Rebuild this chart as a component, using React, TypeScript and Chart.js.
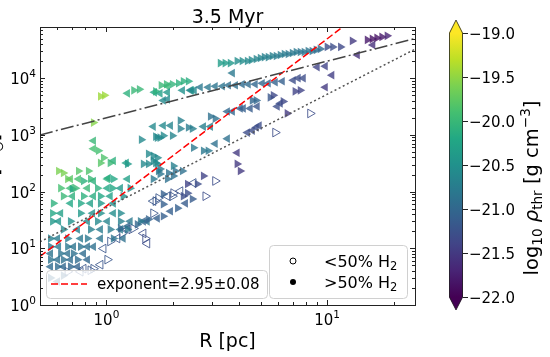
import React, { useEffect, useRef } from "react";
import { Chart, registerables } from "chart.js";
Chart.register(...registerables);

type Pt = [number, number, number]; // [R (pc), M, log10 rho_thr]

const TITLE = "3.5 Myr";
const X_MIN = 0.5, X_MAX = 25;
const Y_MIN = 1, Y_MAX = 8e4;
const X_MAJOR = [1, 10];
const X_MINOR = [0.5, 0.6, 0.7, 0.8, 0.9, 2, 3, 4, 5, 6, 7, 8, 9, 20];
const Y_MAJOR = [1, 10, 100, 1000, 10000];
const Y_MINOR_MULT = [2, 3, 4, 5, 6, 7, 8, 9];
const CBAR_TICKS = [-19.0, -19.5, -20.0, -20.5, -21.0, -21.5, -22.0];
const RHO_MIN = -22, RHO_MAX = -19;
const FIT = { coef: 55.6, exp: 2.95, label: "exponent=2.95±0.08" };
const REF_LINEAR = { coef: 2000, exp: 1 };
const REF_QUAD = { coef: 52, exp: 2 };

const rightFilled: Pt[] = [
  [0.94, 4790, -19.45], [0.98, 4990, -19.45],
  [1.33, 6120, -20.0], [1.41, 6370, -20.0], [1.67, 5870, -20.1], [1.77, 7510, -20.0], [1.87, 7820, -20.0],
  [1.99, 7820, -20.05], [2.12, 8150, -20.1], [2.23, 8840, -20.1], [2.35, 8840, -20.15],
  [3.28, 18500, -20.35], [3.45, 18500, -20.35], [3.64, 18500, -20.4], [3.91, 20100, -20.55], [4.12, 20100, -20.55],
  [4.35, 20100, -20.6], [4.53, 20900, -20.6], [4.77, 21800, -20.65], [4.98, 22700, -20.65], [5.19, 23600, -20.7],
  [5.41, 23600, -20.7], [5.64, 24600, -20.7], [5.88, 24600, -20.75], [6.13, 25700, -20.75], [6.39, 26700, -20.75],
  [6.66, 26700, -20.8], [6.95, 27800, -20.8], [7.24, 29000, -20.8], [7.55, 29000, -20.85], [7.87, 29000, -20.85],
  [8.2, 30200, -20.85], [8.55, 30200, -20.9], [8.92, 31500, -20.9], [9.3, 32800, -20.95],
  [10.0, 35600, -21.3], [10.6, 35600, -21.3], [11.5, 35600, -21.35], [13.0, 45500, -21.5], [15.2, 47400, -21.8],
  [16.0, 49300, -21.85], [16.8, 51400, -21.85], [17.7, 53500, -21.8], [18.7, 55800, -21.7],
  [7.16, 5870, -21.4], [7.55, 6120, -21.4], [5.52, 4590, -21.2], [4.58, 4060, -21.0], [4.77, 4060, -21.0],
  [5.7, 4990, -21.35], [6.32, 3900, -21.35], [2.96, 2110, -20.9], [3.11, 1940, -20.9], [6.59, 2390, -21.5],
  [3.91, 308, -21.5], [4.04, 231, -21.5],
  [1.67, 930, -20.6], [1.81, 970, -20.6], [1.99, 970, -20.65], [2.16, 1290, -20.7], [2.45, 1290, -20.7],
  [2.16, 1790, -20.7], [2.35, 1350, -20.75],
  [2.75, 525, -20.8], [2.89, 525, -20.8], [2.48, 593, -20.8], [2.75, 189, -21.4], [2.58, 136, -21.3],
  [2.23, 83, -21.3], [2.33, 94, -21.3], [2.21, 231, -20.9], [2.05, 231, -20.9], [1.91, 213, -20.9],
  [1.75, 205, -20.85], [1.63, 167, -20.8], [1.81, 90, -21.1], [1.81, 60, -21.1], [1.89, 167, -20.9],
  [2.01, 189, -20.9], [1.63, 349, -20.6], [1.7, 394, -20.6], [1.72, 231, -20.8], [1.75, 251, -20.8], [2.33, 136, -21.4],
  [0.873, 1650, -19.55], [0.92, 525, -19.9], [0.969, 394, -19.85], [0.939, 321, -19.8], [1.04, 321, -20.0],
  [0.607, 231, -19.6], [0.638, 213, -19.6], [0.747, 231, -19.8], [0.829, 231, -19.85], [0.787, 154, -20.1],
  [1.44, 823, -20.6], [1.55, 464, -20.6], [1.63, 428, -20.6], [1.67, 321, -20.6], [0.7, 111, -20.2],
  [1.245, 308, -20.4], [1.7, 894, -20.6], [1.75, 894, -20.6], [1.47, 308, -20.6], [1.55, 308, -20.6],
  [1.7, 308, -20.6], [2.01, 284, -20.7],
  [0.667, 167, -19.7], [0.847, 167, -20.0], [1.075, 167, -20.2],
  [0.62, 115, -19.9], [0.724, 115, -20.0], [0.911, 115, -20.1], [1.065, 115, -20.2], [1.28, 115, -20.5],
  [0.638, 83, -20.0], [0.787, 83, -20.1], [0.939, 83, -20.2], [1.19, 83, -20.5],
  [0.575, 62, -20.1], [0.763, 62, -20.2], [0.939, 62, -20.4],
  [0.57, 41.5, -20.2], [0.763, 41.5, -20.4], [0.939, 41.5, -20.5], [1.157, 41.5, -20.6],
  [0.57, 29.9, -20.4], [0.687, 29.9, -20.5], [0.911, 29.9, -20.6], [1.157, 29.9, -20.7], [1.425, 29.9, -20.8],
  [0.638, 21.5, -20.6], [0.847, 21.5, -20.7], [1.04, 21.5, -20.75], [1.245, 21.5, -20.8],
  [0.558, 14.9, -20.7], [0.667, 14.9, -20.75], [0.82, 14.9, -20.8], [1.075, 14.9, -20.85],
  [0.558, 10.7, -20.8], [0.667, 10.7, -20.8], [0.763, 10.7, -20.85],
  [0.62, 8.07, -20.85], [0.709, 8.07, -20.9],
  [0.558, 6.31, -20.85], [0.638, 6.31, -20.9], [0.739, 6.31, -20.95],
  [0.6, 4.74, -20.95], [0.687, 4.74, -21.0],
  [0.558, 3.0, -21.0], [0.638, 3.3, -21.05],
  [1.157, 22.4, -21.0], [1.38, 26.4, -21.0], [1.55, 32.4, -21.05], [1.81, 36.7, -21.1], [2.1, 51, -21.1], [2.45, 74, -21.15],
];

const leftFilled: Pt[] = [
  [1.245, 5410, -20.1], [1.65, 5640, -20.2], [1.89, 7210, -20.0], [2.43, 6120, -20.3], [1.89, 4240, -20.6],
  [1.75, 5410, -20.3], [1.89, 5640, -20.4], [2.21, 6120, -20.5], [2.4, 6120, -20.6], [2.5, 6120, -20.6], [1.81, 4060, -20.6],
  [2.66, 6920, -20.8], [2.89, 6920, -20.8], [3.11, 7210, -20.85], [3.35, 7210, -20.85], [3.57, 7510, -20.9],
  [3.84, 7510, -20.9], [4.12, 7820, -20.95], [4.39, 7820, -20.95], [4.72, 7820, -21.0], [5.08, 8150, -21.0],
  [5.41, 8150, -21.05], [5.82, 8490, -21.05], [6.26, 8840, -21.1], [3.72, 12300, -20.8],
  [16.1, 38600, -21.6], [13.7, 25700, -21.6], [9.01, 15700, -21.4], [9.8, 16300, -21.4], [10.5, 11300, -21.45],
  [7.02, 9210, -21.3], [7.39, 10000, -21.3], [7.79, 10000, -21.3], [9.8, 6920, -21.5], [6.13, 3590, -21.3],
  [5.94, 3180, -21.3], [4.04, 2930, -21.1], [4.17, 2930, -21.1], [4.48, 2930, -21.15], [4.82, 3180, -21.2],
  [3.53, 2590, -21.0], [3.72, 2590, -21.0], [4.35, 1100, -21.3], [4.58, 1190, -21.3], [4.77, 1350, -21.3],
  [4.92, 1460, -21.3], [3.91, 484, -21.5],
  [1.63, 1400, -20.6], [1.81, 1460, -20.6], [1.95, 1460, -20.65], [2.75, 1400, -20.7], [2.96, 1400, -20.7],
  [3.53, 858, -20.9], [3.11, 699, -20.9],
  [0.873, 790, -20.0], [0.873, 570, -19.9], [1.075, 349, -20.1], [0.873, 154, -20.1], [1.02, 174, -20.2], [1.23, 321, -20.3],
  [0.687, 167, -19.8], [0.747, 167, -19.9], [1.01, 167, -20.1], [1.245, 167, -20.3],
  [0.687, 115, -19.95], [0.82, 115, -20.0], [1.01, 115, -20.2], [1.157, 115, -20.4],
  [0.702, 83, -20.1], [0.873, 83, -20.15], [1.04, 83, -20.3],
  [0.687, 62, -20.2], [0.847, 62, -20.3], [1.075, 62, -20.5],
  [0.62, 41.5, -20.3], [0.865, 41.5, -20.5], [1.075, 41.5, -20.55],
  [0.607, 29.9, -20.45], [0.82, 29.9, -20.6], [1.01, 29.9, -20.65], [1.28, 29.9, -20.8], [1.53, 29.9, -20.85],
  [0.739, 21.5, -20.7], [0.939, 21.5, -20.75], [1.157, 21.5, -20.8],
  [0.6, 14.9, -20.75], [0.763, 14.9, -20.8], [0.939, 14.9, -20.85], [1.19, 14.9, -20.9],
  [0.607, 10.7, -20.8], [0.709, 10.7, -20.85], [0.82, 10.7, -20.9], [0.873, 10.7, -20.9],
  [0.558, 8.07, -20.85], [0.667, 8.07, -20.9], [0.787, 8.07, -20.95],
  [0.6, 6.31, -20.9], [0.687, 6.31, -20.95], [0.82, 6.31, -21.0],
  [0.558, 4.74, -20.95], [0.638, 4.74, -21.0], [0.739, 4.74, -21.05],
  [0.6, 2.6, -21.05],
  [1.245, 24.4, -21.0], [1.47, 29.9, -21.05], [1.7, 33.8, -21.1], [1.95, 45, -21.1], [2.28, 62, -21.15],
];

const rightOpen: Pt[] = [
  [8.38, 2390, -21.3], [5.82, 1100, -21.3], [3.11, 154, -21.3], [2.81, 83, -21.3], [1.99, 83, -21.2],
  [1.67, 68, -21.2], [1.63, 41.5, -21.2], [1.01, 6.31, -21.2], [0.873, 4.37, -21.2], [1.04, 13.2, -21.2],
  [1.18, 18.3, -21.2], [1.325, 22.4, -21.25], [1.5, 14.9, -21.3], [1.72, 77, -21.2], [2.01, 94, -21.25],
  [0.847, 4.1, -21.2], [0.667, 3.86, -21.2],
];

const leftOpen: Pt[] = [
  [2.48, 142, -21.2], [0.939, 5.14, -21.2], [0.787, 4.37, -21.2], [0.969, 9.9, -21.2], [1.12, 14.9, -21.2],
  [1.245, 21.5, -21.25], [1.47, 18.3, -21.3], [1.53, 12.1, -21.3], [1.63, 68, -21.2], [1.89, 83, -21.2],
  [2.16, 102, -21.25], [0.763, 3.86, -21.2],
];

const VIRIDIS = ["#440154", "#482475", "#414487", "#355f8d", "#2a788e", "#21918c", "#22a884", "#44bf70", "#7ad151", "#bddf26", "#fde725"];
const FONT = "'DejaVu Sans', sans-serif";

function hexRgb(h: string) {
  return [parseInt(h.slice(1, 3), 16), parseInt(h.slice(3, 5), 16), parseInt(h.slice(5, 7), 16)];
}
function viridis(v: number, a = 1) {
  let t = (v - RHO_MIN) / (RHO_MAX - RHO_MIN);
  t = Math.max(0, Math.min(1, t));
  const s = t * (VIRIDIS.length - 1);
  const i = Math.min(Math.floor(s), VIRIDIS.length - 2);
  const f = s - i;
  const c0 = hexRgb(VIRIDIS[i]), c1 = hexRgb(VIRIDIS[i + 1]);
  const c = c0.map((c, k) => Math.round(c + (c1[k] - c) * f));
  return `rgba(${c[0]},${c[1]},${c[2]},${a})`;
}

type Seg = { t: string; s: number; dy?: number; it?: boolean };
function setFont(ctx: CanvasRenderingContext2D, seg: Seg) {
  ctx.font = `${seg.it ? "italic " : ""}${seg.s}px ${FONT}`;
}
function richWidth(ctx: CanvasRenderingContext2D, segs: Seg[]) {
  let w = 0;
  for (const sg of segs) { setFont(ctx, sg); w += ctx.measureText(sg.t).width; }
  return w;
}
function drawRich(ctx: CanvasRenderingContext2D, segs: Seg[], x: number, y: number, align: "left" | "center" | "right") {
  const w = richWidth(ctx, segs);
  let cx = align === "left" ? x : align === "center" ? x - w / 2 : x - w;
  ctx.textAlign = "left";
  ctx.textBaseline = "alphabetic";
  for (const sg of segs) {
    setFont(ctx, sg);
    ctx.fillText(sg.t, cx, y + (sg.dy || 0));
    cx += ctx.measureText(sg.t).width;
  }
}
const sup = (n: number) => Math.round(Math.log10(n)).toString();

const decorPlugin = {
  id: "decor",
  afterDatasetsDraw(chart: any) {
    const ctx: CanvasRenderingContext2D = chart.ctx;
    const { left, right, top, bottom } = chart.chartArea;
    const xs = chart.scales.x, ys = chart.scales.y;
    ctx.save();
    // legends
    const rr = (x0: number, y0: number, x1: number, y1: number) => {
      ctx.beginPath();
      ctx.roundRect(x0, y0, x1 - x0, y1 - y0, 4);
      ctx.fillStyle = "rgba(255,255,255,0.8)";
      ctx.fill();
      ctx.strokeStyle = "#d0d0d0";
      ctx.lineWidth = 1;
      ctx.stroke();
    };
    rr(46.5, 270.5, 267.5, 298.5);
    ctx.beginPath();
    ctx.setLineDash([7, 3]);
    ctx.strokeStyle = "#ff0000";
    ctx.lineWidth = 1.5;
    ctx.moveTo(51, 284); ctx.lineTo(87, 284);
    ctx.stroke();
    ctx.setLineDash([]);
    ctx.fillStyle = "#000";
    drawRich(ctx, [{ t: FIT.label, s: 15 }], 97, 289, "left");

    rr(269.5, 245.5, 407.5, 298.5);
    ctx.beginPath();
    ctx.arc(293, 261, 3, 0, Math.PI * 2);
    ctx.fillStyle = "#fff"; ctx.fill();
    ctx.strokeStyle = "#000"; ctx.lineWidth = 1; ctx.stroke();
    ctx.beginPath();
    ctx.arc(293, 282, 3, 0, Math.PI * 2);
    ctx.fillStyle = "#000"; ctx.fill();
    drawRich(ctx, [{ t: "<50% H", s: 16 }, { t: "2", s: 11.5, dy: 3 }], 324, 267, "left");
    drawRich(ctx, [{ t: ">50% H", s: 16 }, { t: "2", s: 11.5, dy: 3 }], 324, 288, "left");

    // frame
    ctx.strokeStyle = "#222";
    ctx.lineWidth = 1;
    ctx.strokeRect(Math.round(left) + 0.5, Math.round(top) + 0.5, Math.round(right - left), Math.round(bottom - top));

    // ticks
    ctx.beginPath();
    const xt = (v: number, len: number) => {
      const px = Math.round(xs.getPixelForValue(v)) + 0.5;
      ctx.moveTo(px, bottom); ctx.lineTo(px, bottom - len);
      ctx.moveTo(px, top); ctx.lineTo(px, top + len);
    };
    const yt = (v: number, len: number) => {
      const py = Math.round(ys.getPixelForValue(v)) + 0.5;
      ctx.moveTo(left, py); ctx.lineTo(left + len, py);
      ctx.moveTo(right, py); ctx.lineTo(right - len, py);
    };
    X_MAJOR.forEach((v) => xt(v, 5));
    X_MINOR.forEach((v) => xt(v, 3));
    Y_MAJOR.forEach((v) => {
      yt(v, 5);
      Y_MINOR_MULT.forEach((m) => { if (v * m <= Y_MAX) yt(v * m, 3); });
    });
    ctx.stroke();

    // tick labels
    ctx.fillStyle = "#000";
    X_MAJOR.forEach((v) => {
      const px = xs.getPixelForValue(v);
      drawRich(ctx, [{ t: "10", s: 15 }, { t: sup(v), s: 10.5, dy: -7 }], px, 325, "center");
    });
    Y_MAJOR.forEach((v) => {
      const py = ys.getPixelForValue(v);
      drawRich(ctx, [{ t: "10", s: 15 }, { t: sup(v), s: 10.5, dy: -7 }], 36, py + 6, "right");
    });

    // title and axis labels
    drawRich(ctx, [{ t: TITLE, s: 19 }], (left + right) / 2, 23, "center");
    drawRich(ctx, [{ t: "R [pc]", s: 19 }], (left + right) / 2, 347, "center");
    ctx.save();
    ctx.translate(-1, (top + bottom) / 2);
    ctx.rotate(-Math.PI / 2);
    drawRich(ctx, [{ t: "M [M", s: 19 }, { t: "⊙", s: 13, dy: 4 }, { t: "]", s: 19 }], 0, 0, "center");
    ctx.restore();

    // colorbar
    const cbL = 449, cbR = 463, cbT = 33, cbB = 297;
    const grad = ctx.createLinearGradient(0, cbB, 0, cbT);
    VIRIDIS.forEach((c, i) => grad.addColorStop(i / (VIRIDIS.length - 1), c));
    ctx.fillStyle = grad;
    ctx.fillRect(cbL, cbT, cbR - cbL, cbB - cbT);
    ctx.beginPath();
    ctx.moveTo(cbL, cbT); ctx.lineTo((cbL + cbR) / 2, cbT - 13); ctx.lineTo(cbR, cbT); ctx.closePath();
    ctx.fillStyle = VIRIDIS[VIRIDIS.length - 1]; ctx.fill();
    ctx.beginPath();
    ctx.moveTo(cbL, cbB); ctx.lineTo((cbL + cbR) / 2, cbB + 13); ctx.lineTo(cbR, cbB); ctx.closePath();
    ctx.fillStyle = VIRIDIS[0]; ctx.fill();
    ctx.beginPath();
    ctx.moveTo(cbL + 0.5, cbT); ctx.lineTo((cbL + cbR) / 2, cbT - 13); ctx.lineTo(cbR - 0.5, cbT);
    ctx.lineTo(cbR - 0.5, cbB); ctx.lineTo((cbL + cbR) / 2, cbB + 13); ctx.lineTo(cbL + 0.5, cbB); ctx.closePath();
    ctx.strokeStyle = "#222"; ctx.lineWidth = 0.8; ctx.stroke();
    ctx.beginPath();
    CBAR_TICKS.forEach((v) => {
      const py = Math.round(cbB - ((v - RHO_MIN) / (RHO_MAX - RHO_MIN)) * (cbB - cbT)) + 0.5;
      ctx.moveTo(cbR, py); ctx.lineTo(cbR + 5, py);
    });
    ctx.strokeStyle = "#222"; ctx.lineWidth = 1; ctx.stroke();
    ctx.fillStyle = "#000";
    CBAR_TICKS.forEach((v) => {
      const py = cbB - ((v - RHO_MIN) / (RHO_MAX - RHO_MIN)) * (cbB - cbT);
      drawRich(ctx, [{ t: "\u2212" + Math.abs(v).toFixed(1), s: 15 }], 469, py + 5.5, "left");
    });
    ctx.save();
    ctx.translate(538, 188);
    ctx.rotate(-Math.PI / 2);
    drawRich(ctx, [
      { t: "log", s: 19.5 }, { t: "10", s: 13.6, dy: 4 }, { t: " ", s: 19.5 },
      { t: "ρ", s: 19.5, it: true }, { t: "thr", s: 13.6, dy: 4 },
      { t: " [g cm", s: 19.5 }, { t: "\u22123", s: 13.6, dy: -8 }, { t: "]", s: 19.5 },
    ], 0, 0, "center");
    ctx.restore();
    ctx.restore();
  },
};

function scatterSet(pts: Pt[], rot: number, filled: boolean) {
  return {
    type: "scatter" as const,
    data: pts.map((p) => ({ x: p[0], y: p[1] })),
    pointStyle: "triangle",
    rotation: rot,
    pointRadius: 5,
    backgroundColor: pts.map((p) => (filled ? viridis(p[2], 0.8) : "rgba(0,0,0,0)")),
    borderColor: pts.map((p) => viridis(p[2], filled ? 0.8 : 0.85)),
    borderWidth: filled ? 0 : 1,
    order: 2,
  };
}
function powerLine(f: { coef: number; exp: number }, color: string, dash: number[], w: number) {
  return {
    type: "line" as const,
    data: [X_MIN, X_MAX].map((x) => ({ x, y: f.coef * Math.pow(x, f.exp) })),
    borderColor: color,
    borderDash: dash,
    borderWidth: w,
    pointRadius: 0,
    fill: false,
    showLine: true,
    order: 1,
  };
}

export default function App() {
  const ref = useRef<HTMLCanvasElement>(null);
  useEffect(() => {
    document.body.style.margin = "0";
    const chart = new Chart(ref.current!, {
      type: "scatter",
      data: {
        datasets: [
          powerLine(REF_LINEAR, "#444444", [13, 3.3, 2, 3.3], 1.5),
          powerLine(REF_QUAD, "#555555", [2, 2.6], 1.5),
          powerLine(FIT, "#ff0000", [7, 3], 1.5),
          scatterSet(rightFilled, 90, true),
          scatterSet(leftFilled, -90, true),
          scatterSet(rightOpen, 90, false),
          scatterSet(leftOpen, -90, false),
        ] as any,
      },
      options: {
        animation: false,
        responsive: false,
        maintainAspectRatio: false,
        layout: { padding: { left: 0, right: 135, top: 27, bottom: 0 } },
        plugins: { legend: { display: false }, tooltip: { enabled: false }, title: { display: false } },
        scales: {
          x: {
            type: "logarithmic", min: X_MIN, max: X_MAX,
            grid: { display: false }, border: { display: false }, ticks: { display: false },
            afterFit: (s: any) => { s.height = 52; },
          },
          y: {
            type: "logarithmic", min: Y_MIN, max: Y_MAX,
            grid: { display: false }, border: { display: false }, ticks: { display: false },
            afterFit: (s: any) => { s.width = 40; },
          },
        },
      } as any,
      plugins: [decorPlugin],
    });
    return () => chart.destroy();
  }, []);
  return (
    <div style={{ position: "absolute", left: 0, top: 0, width: 550, height: 357, background: "#fff" }}>
      <canvas ref={ref} width={550} height={357} style={{ display: "block" }} />
    </div>
  );
}
